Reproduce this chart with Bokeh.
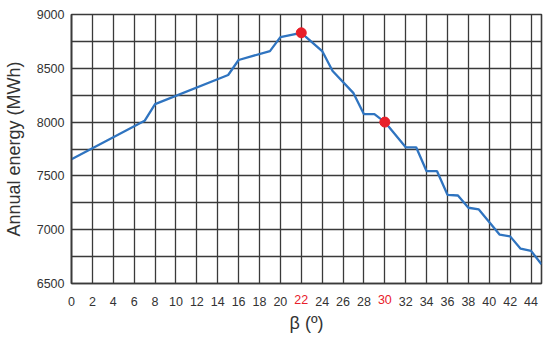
from bokeh.plotting import figure
from bokeh.models import FixedTicker, Range1d, LinearAxis
from bokeh.embed import file_html
from bokeh.resources import INLINE

beta = [0, 7, 8, 15, 16, 19, 20, 22, 24, 25, 27, 28, 29, 30, 32, 33, 34, 35, 36, 37, 38, 39, 41, 42, 43, 44, 45]
energy = [7655, 8012, 8167, 8438, 8577, 8660, 8790, 8830, 8660, 8475, 8269, 8074, 8074, 8000, 7766, 7766,
          7544, 7544, 7324, 7318, 7204, 7188, 6954, 6938, 6824, 6803, 6679]
highlight_beta = [22, 30]
highlight_energy = [8830, 8000]
x_ticks = list(range(0, 45, 2))
y_ticks = [6500, 7000, 7500, 8000, 8500, 9000]
y_minor = [6750, 7250, 7750, 8250, 8750]

FONT = "Liberation Sans"
GRID = "#3a3a3a"
LABEL = "#333333"
RED = "#e8202a"

p = figure(frame_width=470, frame_height=269, output_backend="svg", toolbar_location=None,
           x_range=Range1d(0, 45), y_range=Range1d(6500, 9000),
           min_border_left=65, min_border_right=6, min_border_top=14, min_border_bottom=4)
p.background_fill_color = "white"
p.outline_line_color = GRID
p.outline_line_width = 1.6

p.xaxis.ticker = FixedTicker(ticks=x_ticks)
p.yaxis.ticker = FixedTicker(ticks=y_ticks, minor_ticks=y_minor)
p.xaxis.major_label_overrides = {t: "" for t in highlight_beta}

# second bottom axis carrying the red labels, pulled up onto the first axis' label row
red_axis = LinearAxis(ticker=FixedTicker(ticks=highlight_beta))
p.add_layout(red_axis, "below")

for ax in (p.xaxis[0], red_axis, p.yaxis[0]):
    ax.axis_line_color = GRID
    ax.axis_line_width = 1.6
    ax.major_tick_line_color = None
    ax.minor_tick_line_color = None
    ax.major_tick_out = 0
    ax.minor_tick_out = 0
    ax.major_label_text_font = FONT
    ax.major_label_text_font_size = "12.5px"
    ax.major_label_text_color = LABEL
    ax.axis_label_text_font = FONT
    ax.axis_label_text_font_size = "18px"
    ax.axis_label_text_font_style = "normal"
    ax.axis_label_text_color = LABEL

red_axis.axis_line_color = None
red_axis.major_label_text_color = RED

p.xaxis[0].major_label_standoff = 13
red_axis.major_label_standoff = -14
p.yaxis[0].major_label_standoff = 7
red_axis.axis_label = "β (º)"
p.yaxis[0].axis_label = "Annual energy (MWh)"
red_axis.axis_label_standoff = 6
p.yaxis[0].axis_label_standoff = 10

p.xgrid.grid_line_color = GRID
p.xgrid.grid_line_width = 1.3
p.ygrid.grid_line_color = GRID
p.ygrid.grid_line_width = 1.3
p.ygrid.minor_grid_line_color = GRID
p.ygrid.minor_grid_line_width = 1.3

p.line(beta, energy, line_color="#2f74c0", line_width=2.3)
p.scatter(highlight_beta, highlight_energy, size=10, fill_color=RED, line_color=RED)

open("out.html", "w").write(file_html(p, INLINE))
